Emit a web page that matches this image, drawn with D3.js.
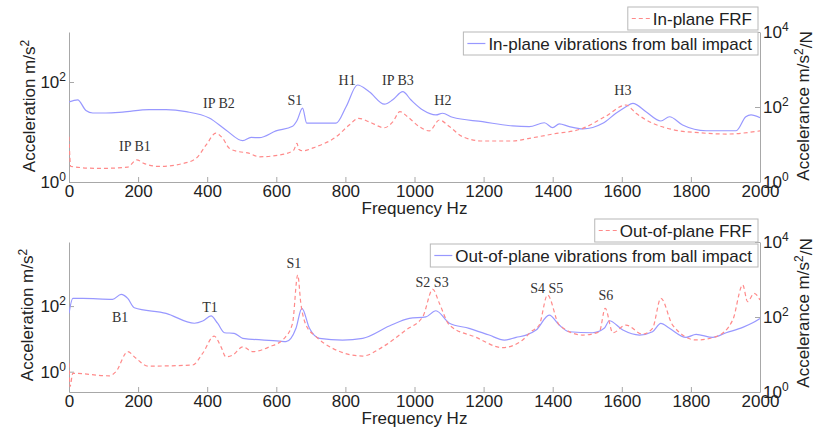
<!DOCTYPE html>
<html>
<head>
<meta charset="utf-8">
<script src="https://cdn.jsdelivr.net/npm/d3@7"></script>
<style>
  body { margin: 0; background: #fff; }
  svg { font-family: "Liberation Sans", Arial, sans-serif; }
  .axis path, .axis line { stroke: #a8a8a8; stroke-width: 1; }
  .axis text { fill: #222; font-size: 17px; }
  .label { fill: #222; font-size: 17px; }
  .note { fill: #333; font-size: 14px; font-family: "Liberation Serif", "Times New Roman", serif; }
  .legend text { fill: #222; font-size: 17px; }
  .legend rect { fill: #fff; stroke: #b8b8b8; }
  .ball { fill: none; stroke: #9898ff; stroke-width: 1.2; }
  .frf { fill: none; stroke: #ff8a8a; stroke-width: 1.2; stroke-dasharray: 4,3; }
</style>
</head>
<body>
<svg id="chart" width="815" height="432"></svg>
<script>
// In-plane: ball impact response (left axis, m/s^2)
var inBallFreq = [0, 25, 49, 69, 107, 155, 232, 281, 339, 406, 454, 503, 527, 551, 599, 647, 660, 676, 688, 773, 802, 835, 869, 913, 937, 966, 990, 1024, 1062, 1081, 1110, 1197, 1284, 1332, 1376, 1400, 1419, 1448, 1487, 1545, 1583, 1612, 1632, 1670, 1713, 1738, 1776, 1844, 1931, 1959, 1974, 2000];
var inBall     = [40, 44, 27, 24, 24, 25, 28, 28, 25.5, 19, 11, 6.7, 7.8, 7.7, 10.5, 13, 17, 30, 15, 15, 32, 87, 64, 36, 44, 64, 43.6, 27.5, 22, 23.7, 19.7, 16.1, 13.2, 12.8, 15.3, 12.2, 14.5, 12.8, 11.5, 14.9, 23.7, 32, 37.5, 25.5, 16.6, 20.2, 13.8, 10.6, 10.6, 20.2, 22, 19.3];

// In-plane FRF (right axis, m/s^2/N)
var inFrfFreq = [0, 5, 88, 170, 196, 218, 261, 329, 368, 397, 425, 445, 464, 493, 517, 551, 609, 650, 660, 665, 676, 715, 773, 811, 838, 869, 913, 937, 958, 980, 1014, 1043, 1072, 1101, 1140, 1197, 1284, 1332, 1400, 1487, 1554, 1612, 1641, 1689, 1747, 1824, 1902, 2000];
var inFrf     = [16, 2.6, 2.3, 2.5, 3.9, 3.1, 2.6, 3.1, 4.3, 9.7, 20, 14.6, 7.9, 6.4, 6.0, 4.7, 5.25, 7, 10.8, 7.5, 6.8, 8.7, 16, 33, 50, 40, 28, 40, 75, 55, 30, 23, 45, 30, 16, 12.4, 12.4, 14.6, 19, 27, 57, 113, 68, 37, 25, 20.6, 19, 23];

// Out-of-plane: ball impact response (left axis)
var outBallFreq = [0, 11, 40, 126, 151, 170, 189, 281, 363, 387, 411, 430, 450, 478, 503, 609, 628, 657, 674, 696, 725, 792, 850, 927, 985, 1033, 1062, 1101, 1158, 1216, 1260, 1294, 1323, 1352, 1390, 1419, 1448, 1515, 1549, 1564, 1603, 1651, 1689, 1713, 1738, 1786, 1815, 1863, 1902, 1950, 1979, 2000];
var outBall     = [60, 171, 171, 160, 227, 171, 89, 60, 30, 35, 50, 30, 15.4, 14.8, 10.4, 8.6, 8.2, 21, 85, 21, 10.4, 9.2, 10.4, 24.6, 42, 47, 72, 30, 21, 13.1, 9.2, 11.1, 13, 18.6, 53, 26.4, 16.5, 15.4, 21, 35.7, 18.6, 13.1, 16.5, 29.7, 21, 11.1, 13.8, 11.1, 15.4, 22.5, 31, 42];

// Out-of-plane FRF (right axis)
var outFrfFreq = [0, 3, 11, 117, 136, 170, 194, 228, 358, 387, 420, 440, 454, 474, 503, 532, 580, 623, 647, 662, 671, 686, 715, 763, 850, 908, 975, 1024, 1053, 1072, 1101, 1178, 1255, 1313, 1337, 1361, 1385, 1419, 1487, 1535, 1552, 1574, 1612, 1660, 1689, 1713, 1747, 1815, 1873, 1921, 1950, 1964, 1983, 2000];
var outFrf     = [5.8, 1.4, 3.15, 2.7, 3.5, 11.9, 7.9, 4.9, 5.25, 10.8, 31, 16, 8.7, 9.7, 16, 11.9, 16, 27, 68, 1318, 232, 61, 30, 14.6, 9.1, 16, 45, 102, 548, 232, 61, 28.7, 15.2, 24.4, 40.5, 61, 386, 61, 33, 40.5, 171, 38, 61, 35, 50, 315, 61, 24.4, 30, 83, 713, 256, 428, 284];

// Mode labels: text, frequency (Hz), level on left axis
var inNoteText = ["IP B1", "IP B2", "S1", "H1", "IP B3", "H2", "H3"];
var inNoteFreq = [191, 434, 654, 805, 952, 1082, 1603];
var inNoteLevel = [4.17, 30.2, 34.7, 87, 87, 34.7, 55];

var outNoteText = ["B1", "T1", "S1", "S2 S3", "S4 S5", "S6"];
var outNoteFreq = [148, 408, 651, 1051, 1383, 1554];
var outNoteLevel = [32.6, 65.7, 1435, 379, 249, 152];

var xTicks = d3.range(0, 2001, 200);

var svg = d3.select("#chart");
var plotLeft = 69, plotRight = 760;

var xScale = d3.scaleLinear().domain([0, 2000]).range([plotLeft, plotRight]);

function drawPanel(p) {
  var yLeft = d3.scaleLog().domain(p.leftDomain).range([p.bottom, p.top]);
  var yRight = d3.scaleLog().domain([1, 1e4]).range([p.bottom, p.top]);

  var clipId = "clip" + p.top;
  svg.append("clipPath").attr("id", clipId)
    .append("rect")
      .attr("x", plotLeft).attr("y", p.top)
      .attr("width", plotRight - plotLeft).attr("height", p.bottom - p.top);

  // axes, ticks pointing inward like MATLAB
  svg.append("g")
      .attr("class", "axis x")
      .attr("transform", "translate(0," + p.bottom + ")")
      .call(d3.axisBottom(xScale).tickValues(xTicks).tickFormat(d3.format("d"))
        .tickSizeInner(-5).tickSizeOuter(0).tickPadding(3));

  var gl = svg.append("g")
      .attr("class", "axis yl")
      .attr("transform", "translate(" + plotLeft + ",0)")
      .call(d3.axisLeft(yLeft).tickValues([1, 100])
        .tickSizeInner(-5).tickSizeOuter(0).tickPadding(3));

  var gr = svg.append("g")
      .attr("class", "axis yr")
      .attr("transform", "translate(" + plotRight + ",0)")
      .call(d3.axisRight(yRight).tickValues([1, 100, 1e4])
        .tickSizeInner(-5).tickSizeOuter(0).tickPadding(3));

  [gl, gr].forEach(function(g) {
    g.selectAll(".tick text").text(null).each(function(d) {
      var t = d3.select(this);
      t.append("tspan").text("10");
      t.append("tspan").attr("dy", "-0.55em").style("font-size", "12px")
        .text(Math.round(Math.log10(d)));
    });
  });

  svg.append("text")
      .attr("class", "label")
      .attr("x", (plotLeft + plotRight) / 2)
      .attr("y", p.bottom + 32)
      .style("text-anchor", "middle")
      .text("Frequency Hz");

  var ll = svg.append("text")
      .attr("class", "label")
      .attr("transform", "translate(" + p.leftLabelX + "," + p.leftLabelY + ") rotate(-90)")
      .style("text-anchor", "middle");
  ll.append("tspan").text("Acceleration m/s");
  ll.append("tspan").attr("dy", "-0.5em").style("font-size", "12px").text("2");

  var rl = svg.append("text")
      .attr("class", "label")
      .attr("transform", "translate(809," + p.rightLabelY + ") rotate(-90)")
      .style("text-anchor", "middle");
  rl.append("tspan").text("Accelerance m/s");
  rl.append("tspan").attr("dy", "-0.5em").style("font-size", "12px").text("2");
  rl.append("tspan").attr("dy", "0.5em").text("/N");

  // curves
  var lineLeft = d3.line()
      .x(function(d) { return xScale(d[0]); })
      .y(function(d) { return yLeft(d[1]); })
      .curve(d3.curveMonotoneX);
  var lineRight = d3.line()
      .x(function(d) { return xScale(d[0]); })
      .y(function(d) { return yRight(d[1]); })
      .curve(d3.curveMonotoneX);

  var plot = svg.append("g").attr("clip-path", "url(#" + clipId + ")");
  plot.append("path")
      .datum(d3.zip(p.ballFreq, p.ball))
      .attr("class", "ball")
      .attr("d", lineLeft);
  plot.append("path")
      .datum(d3.zip(p.frfFreq, p.frf))
      .attr("class", "frf")
      .attr("d", lineRight);

  // mode labels
  svg.append("g").selectAll("text")
      .data(d3.zip(p.noteText, p.noteFreq, p.noteLevel))
    .enter().append("text")
      .attr("class", "note")
      .attr("x", function(d) { return xScale(d[1]); })
      .attr("y", function(d) { return yLeft(d[2]); })
      .style("text-anchor", "middle")
      .text(function(d) { return d[0]; });

  // legends (two stacked boxes, right aligned)
  legendBox(p.frfName, "frf", p.legendTop);
  legendBox(p.ballName, "ball", p.legendTop + 25);
}

function legendBox(name, cls, top) {
  var right = 758, h = 23;
  var g = svg.append("g").attr("class", "legend");
  var rect = g.append("rect").attr("y", top).attr("height", h);
  var txt = g.append("text").attr("y", top + 17.5).text(name);
  var w = txt.node().getComputedTextLength();
  var left = right - (4 + 18 + 3 + w + 6);
  rect.attr("x", left).attr("width", right - left);
  txt.attr("x", left + 25);
  g.append("line")
      .attr("class", cls)
      .attr("x1", left + 4).attr("x2", left + 22)
      .attr("y1", top + h / 2).attr("y2", top + h / 2);
}

drawPanel({
  top: 32, bottom: 182, leftDomain: [1, 1000],
  ballFreq: inBallFreq, ball: inBall, frfFreq: inFrfFreq, frf: inFrf,
  noteText: inNoteText, noteFreq: inNoteFreq, noteLevel: inNoteLevel,
  frfName: "In-plane FRF", ballName: "In-plane vibrations from ball impact",
  legendTop: 7, leftLabelX: 35, leftLabelY: 106, rightLabelY: 106
});

drawPanel({
  top: 242, bottom: 392, leftDomain: [0.24, 9000],
  ballFreq: outBallFreq, ball: outBall, frfFreq: outFrfFreq, frf: outFrf,
  noteText: outNoteText, noteFreq: outNoteFreq, noteLevel: outNoteLevel,
  frfName: "Out-of-plane FRF", ballName: "Out-of-plane vibrations from ball impact",
  legendTop: 219, leftLabelX: 33, leftLabelY: 315, rightLabelY: 313
});
</script>
</body>
</html>
